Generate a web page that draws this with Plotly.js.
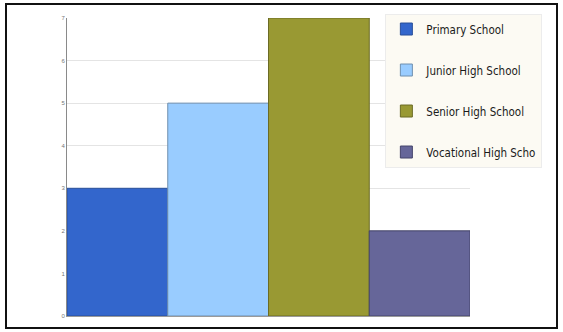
<!DOCTYPE html>
<html>
<head>
<meta charset="utf-8">
<script src="https://cdn.plot.ly/plotly-3.0.1.min.js"></script>
<style>
  html, body { margin: 0; padding: 0; background: #ffffff; }
  #wrap { position: relative; width: 563px; height: 332px; overflow: hidden; }
  #chart { position: absolute; left: 0; top: 0; width: 563px; height: 332px; }
  #frame { position: absolute; left: 5px; top: 3px; width: 553px; height: 326px;
           border: 2px solid #111; box-sizing: border-box; pointer-events: none; }
</style>
</head>
<body>
<div id="wrap">
  <div id="chart"></div>
  <div id="frame"></div>
</div>
<script>
// School levels and their counts
const schoolLevels = ["Primary School", "Junior High School", "Senior High School", "Vocational High Scho"];
const schoolCounts = [3, 5, 7, 2];
const barColors = ["#3366cc", "#99ccff", "#999933", "#666699"];
const barEdges = ["#2a4f99", "#6f8fae", "#6b6b24", "#45456b"];
const yTicks = [0, 1, 2, 3, 4, 5, 6, 7];

const traces = schoolLevels.map((name, i) => ({
  type: "bar",
  name: name,
  x: [name],
  y: [schoolCounts[i]],
  legendgroup: "g" + i,
  marker: { color: barColors[i], line: { color: barEdges[i], width: 1 } },
  hoverinfo: "x+y"
}));

const layout = {
  width: 563,
  height: 332,
  margin: { l: 67, r: 93, t: 18, b: 16, pad: 0, autoexpand: false },
  paper_bgcolor: "#ffffff",
  plot_bgcolor: "#ffffff",
  barmode: "overlay",
  bargap: 0,
  showlegend: true,
  font: { family: "'DejaVu Sans Condensed', 'Liberation Sans Narrow', Arial, sans-serif", color: "#222" },
  xaxis: {
    type: "category",
    categoryarray: schoolLevels,
    showticklabels: false,
    ticks: "",
    showgrid: false,
    showline: true,
    linecolor: "#9a9a9a",
    linewidth: 1,
    zeroline: false
  },
  yaxis: {
    range: [0, 7],
    tickvals: yTicks,
    ticktext: yTicks.map(String),
    tickfont: { size: 6, color: "#777", family: "Liberation Sans, Arial, sans-serif" },
    ticks: "",
    ticklen: 0,
    showgrid: true,
    gridcolor: "#e4e4e4",
    gridwidth: 1,
    showline: true,
    linecolor: "#8a8a8a",
    linewidth: 1,
    zeroline: false
  },
  legend: {
    x: 0.79,
    xanchor: "left",
    y: 1.015,
    yanchor: "top",
    bgcolor: "#fcfaf3",
    bordercolor: "#ececec",
    borderwidth: 1,
    traceorder: "grouped",
    tracegroupgap: 22,
    itemwidth: 30,
    font: { size: 11.5, color: "#1a1a1a" }
  }
};

Plotly.newPlot("chart", traces, layout, { displayModeBar: false, staticPlot: true });
</script>
</body>
</html>
